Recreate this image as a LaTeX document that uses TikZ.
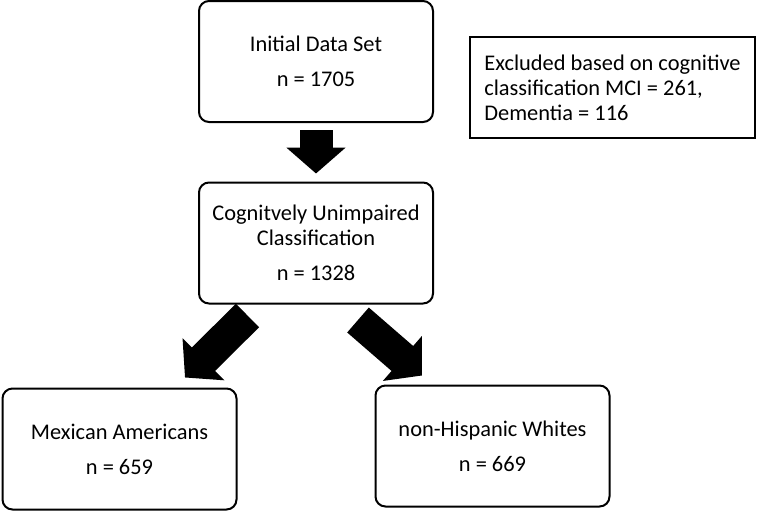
\documentclass[tikz,border=0pt]{standalone}
\usepackage{fontspec}
\setmainfont{Carlito}
\usetikzlibrary{calc}
\usetikzlibrary{arrows.meta}

\begin{document}
\begin{tikzpicture}[x=0.5pt, y=-0.5pt,
	every node/.style={font=\fontsize{11.2}{12.5}\selectfont},
	box/.style={draw, line width=1pt, rounded corners=5pt, align=center,
		minimum width=117pt, minimum height=60.5pt},
	exclbox/.style={draw, line width=0.8pt, align=left,
		minimum width=142.5pt, minimum height=50.5pt},
	blockarrow/.style={line width=16.5pt, -{Triangle[width=29pt, length=13pt]}}]
	\useasboundingbox (0, 0) rectangle (761, 511);
	% boxes
	\node[box] (init) at (316, 61.5) {Initial Data Set\\[5pt] n = 1705};
	\node[exclbox] (excl) at (612.5, 87.5) {Excluded based on cognitive\\ classification MCI = 261,\\ Dementia = 116};
	\node[box] (cog) at (316, 243) {Cognitvely Unimpaired\\ Classification\\[5pt] n = 1328};
	\node[box] (mex) at (119.5, 449) {Mexican Americans\\[5pt] n = 659};
	\node[box] (nhw) at (492.5, 446) {non-Hispanic Whites\\[5pt] n = 669};
	% arrows
	\draw[blockarrow] ($(init.south) + (0, 7)$) -- ($(cog.north) + (0, -8)$);
	\draw[blockarrow] ($(cog.south) + (-68.5, 11)$) -- ($(mex.north) + (65.5, -10)$);
	\draw[blockarrow] ($(cog.south) + (42, 15.5)$) -- ($(nhw.north) + (-70.5, -9)$);
\end{tikzpicture}
\end{document}
